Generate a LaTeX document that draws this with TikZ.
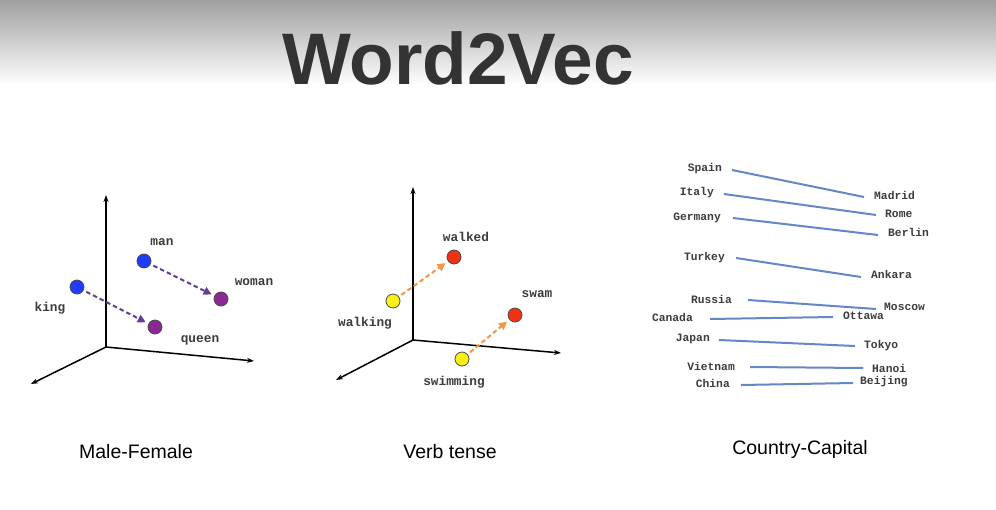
\documentclass[tikz,border=0pt]{standalone}
\usepackage{fontspec}
\setmainfont{Liberation Sans}
\setmonofont{Liberation Mono}
\usetikzlibrary{arrows.meta}
\definecolor{titlec}{RGB}{51,51,51}
\definecolor{lab}{RGB}{60,60,60}
\definecolor{bluept}{RGB}{30,60,250}
\definecolor{purplept}{RGB}{140,40,150}
\definecolor{purplearr}{RGB}{100,60,150}
\definecolor{yellowpt}{RGB}{250,240,20}
\definecolor{redpt}{RGB}{240,50,20}
\definecolor{orangearr}{RGB}{240,150,70}
\definecolor{linkc}{RGB}{100,135,200}
\definecolor{topgray}{RGB}{160,160,160}
\tikzset{
  axis/.style={line width=1.5pt,-{Stealth[length=7pt,width=5pt]}},
  pt/.style={circle,draw=black!70,line width=0.8pt,minimum size=14pt,inner sep=0pt},
  wlab/.style={font=\fontsize{12.8}{14}\selectfont\ttfamily\bfseries,text=lab,inner sep=0pt},
  clab/.style={font=\fontsize{11.3}{13}\selectfont\ttfamily\bfseries,text=lab,inner sep=0pt},
  captext/.style={font=\fontsize{19.5}{22}\selectfont,text=black,inner sep=0pt},
  varr/.style={dashed,dash pattern=on 4.5pt off 3pt,line width=2pt,-{Triangle[length=8pt,width=8pt]},shorten <=3pt,shorten >=3pt},
  link/.style={linkc,line width=2pt}
}
\begin{document}
\begin{tikzpicture}[x=1pt,y=-1pt]
\useasboundingbox (0,0) rectangle (996,509);
\fill[white] (0,0) rectangle (996,509);
\shade[top color=topgray,bottom color=white] (0,0) rectangle (996,85);
\node[font=\fontsize{73}{80}\selectfont\bfseries,text=titlec,inner sep=0pt] (title) at (458,58) {Word2Vec};

% ---- Male-Female ----
\coordinate (o1) at (106,347);
\coordinate (z1) at (106,195);
\coordinate (x1) at (254,361);
\coordinate (y1) at (31,384);
\draw[axis] (o1) -- (z1);
\draw[axis] (o1) -- (x1);
\draw[axis] (o1) -- (y1);
\node[pt,fill=bluept] (king) at (77,287) {};
\node[pt,fill=bluept] (man) at (144,261) {};
\node[pt,fill=purplept] (woman) at (221,299) {};
\node[pt,fill=purplept] (queen) at (155,327) {};
\draw[varr,purplearr] (king) -- (queen);
\draw[varr,purplearr] (man) -- (woman);
\node[wlab] (lman) at (162,242) {man};
\node[wlab] (lwoman) at (254,282) {woman};
\node[wlab] (lking) at (50,308) {king};
\node[wlab] (lqueen) at (200,340) {queen};
\node[captext] (c1) at (136,452) {Male-Female};

% ---- Verb tense ----
\coordinate (o2) at (413,340);
\coordinate (z2) at (413,187);
\coordinate (x2) at (561,353);
\coordinate (y2) at (336,380);
\draw[axis] (o2) -- (z2);
\draw[axis] (o2) -- (x2);
\draw[axis] (o2) -- (y2);
\node[pt,fill=yellowpt] (walking) at (393,301) {};
\node[pt,fill=redpt] (walked) at (454,257) {};
\node[pt,fill=yellowpt] (swimming) at (462,359) {};
\node[pt,fill=redpt] (swam) at (515,315) {};
\draw[varr,orangearr] (walking) -- (walked);
\draw[varr,orangearr] (swimming) -- (swam);
\node[wlab] (lwalked) at (466,237) {walked};
\node[wlab] (lwalking) at (365,323) {walking};
\node[wlab] (lswam) at (537,294) {swam};
\node[wlab] (lswimming) at (454,382) {swimming};
\node[captext] (c2) at (450,452) {Verb tense};

% ---- Country-Capital ----
\node[clab,anchor=east] (spain) at (722,169) {Spain};
\node[clab,anchor=west] (madrid) at (874,195) {Madrid};
\node[clab,anchor=east] (italy) at (714,193) {Italy};
\node[clab,anchor=west] (rome) at (885,214) {Rome};
\node[clab,anchor=east] (germany) at (721,218) {Germany};
\node[clab,anchor=west] (berlin) at (888,232) {Berlin};
\node[clab,anchor=east] (turkey) at (725,258) {Turkey};
\node[clab,anchor=west] (ankara) at (871,274) {Ankara};
\node[clab,anchor=east] (russia) at (732,299) {Russia};
\node[clab,anchor=west] (moscow) at (884,307) {Moscow};
\node[clab,anchor=east] (canada) at (693,317) {Canada};
\node[clab,anchor=west] (ottawa) at (843,316) {Ottawa};
\node[clab,anchor=east] (japan) at (710,339) {Japan};
\node[clab,anchor=west] (tokyo) at (864,346) {Tokyo};
\node[clab,anchor=east] (vietnam) at (735,366) {Vietnam};
\node[clab,anchor=west] (hanoi) at (872,368) {Hanoi};
\node[clab,anchor=east] (china) at (730,383) {China};
\node[clab,anchor=west] (beijing) at (860,382) {Beijing};
\draw[link] ([xshift=10pt,yshift=-1pt]spain.east) -- ([xshift=-10pt,yshift=-2pt]madrid.west);
\draw[link] ([xshift=10pt,yshift=-1pt]italy.east) -- ([xshift=-9pt,yshift=-1pt]rome.west);
\draw[link] ([xshift=12pt]germany.east) -- ([xshift=-10pt,yshift=-3pt]berlin.west);
\draw[link] ([xshift=11pt]turkey.east) -- ([xshift=-10pt,yshift=-3pt]ankara.west);
\draw[link] ([xshift=16pt,yshift=-1pt]russia.east) -- ([xshift=-8pt,yshift=-2pt]moscow.west);
\draw[link] ([xshift=17pt,yshift=-2pt]canada.east) -- ([xshift=-10pt,yshift=-1pt]ottawa.west);
\draw[link] ([xshift=9pt,yshift=-1pt]japan.east) -- ([xshift=-9pt]tokyo.west);
\draw[link] ([xshift=15pt,yshift=-1pt]vietnam.east) -- ([xshift=-9pt]hanoi.west);
\draw[link] ([xshift=11pt,yshift=-2pt]china.east) -- ([xshift=-7pt,yshift=-1pt]beijing.west);
\node[captext] (c3) at (800,449) {Country-Capital};
\end{tikzpicture}
\end{document}
